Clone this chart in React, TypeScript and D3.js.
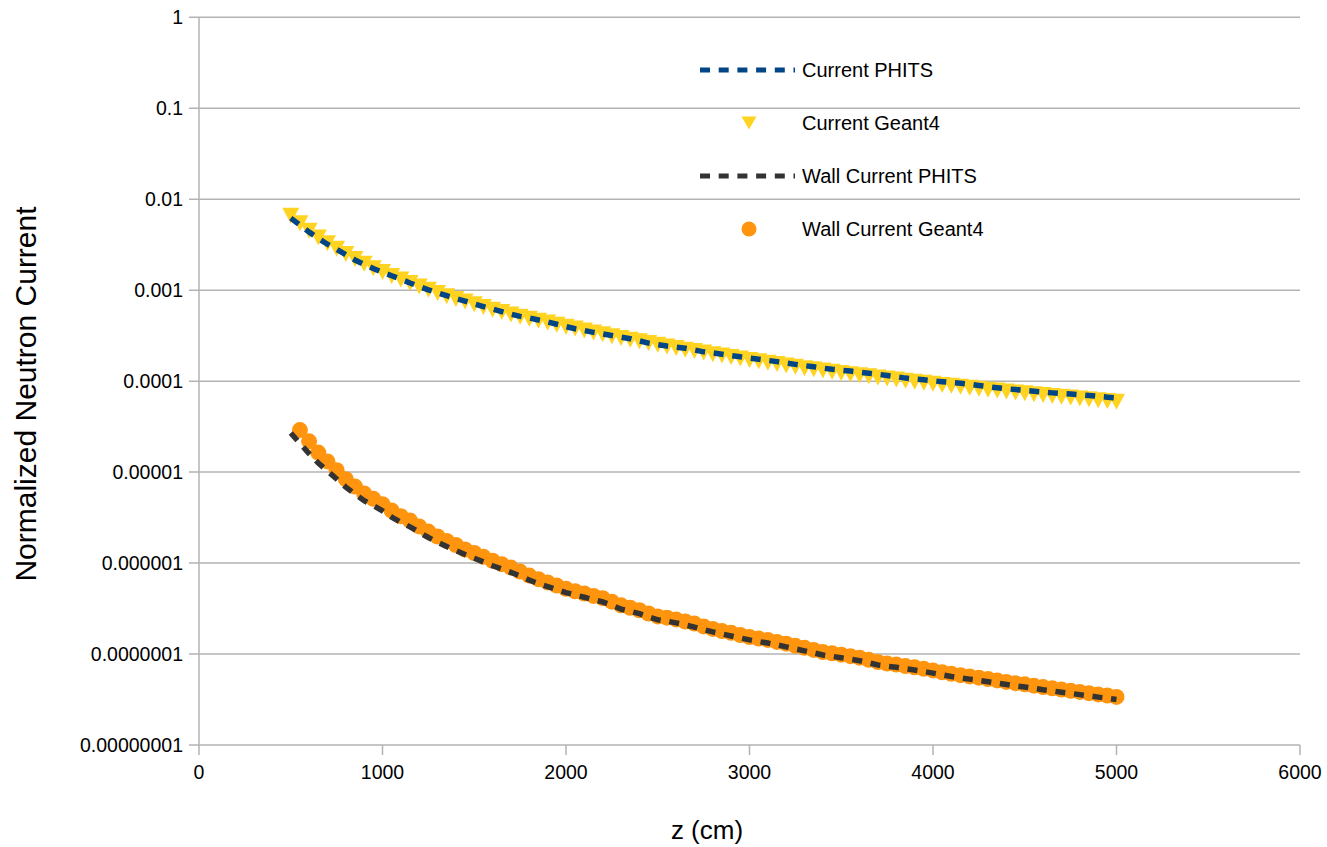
import React from "react";
import * as d3 from "d3";

const zGrid: number[] = d3.range(500, 5001, 50);
const zWallG4: number[] = d3.range(550, 5001, 50);

const currentPHITS: number[] = [
  6.2e-3, 5.2e-3, 4.35e-3, 3.7e-3, 3.2e-3, 2.82e-3, 2.46e-3, 2.15e-3, 1.92e-3, 1.73e-3,
  1.57e-3, 1.44e-3, 1.32e-3, 1.2e-3, 1.1e-3, 1.01e-3, 9.35e-4, 8.7e-4, 8.1e-4, 7.6e-4,
  7.05e-4, 6.6e-4, 6.2e-4, 5.8e-4, 5.45e-4, 5.15e-4, 4.95e-4, 4.7e-4, 4.47e-4, 4.22e-4,
  3.98e-4, 3.77e-4, 3.6e-4, 3.44e-4, 3.3e-4, 3.17e-4, 3.05e-4, 2.93e-4, 2.77e-4, 2.62e-4,
  2.52e-4, 2.43e-4, 2.37e-4, 2.3e-4, 2.2e-4, 2.1e-4, 2.04e-4, 1.98e-4, 1.91e-4, 1.85e-4,
  1.79e-4, 1.74e-4, 1.69e-4, 1.64e-4, 1.58e-4, 1.53e-4, 1.48e-4, 1.44e-4, 1.39e-4, 1.35e-4,
  1.32e-4, 1.29e-4, 1.255e-4, 1.22e-4, 1.19e-4, 1.155e-4, 1.12e-4, 1.08e-4, 1.055e-4, 1.035e-4,
  1.01e-4, 9.85e-5, 9.65e-5, 9.5e-5, 9.25e-5, 8.95e-5, 8.7e-5, 8.45e-5, 8.25e-5, 8.08e-5,
  7.9e-5, 7.75e-5, 7.6e-5, 7.43e-5, 7.3e-5, 7.22e-5, 7.1e-5, 6.95e-5, 6.8e-5, 6.67e-5,
  6.55e-5,
];

const currentGeant4: number[] = [
  6.6e-3, 5.45e-3, 4.5e-3, 3.8e-3, 3.28e-3, 2.86e-3, 2.5e-3, 2.2e-3, 1.95e-3, 1.74e-3,
  1.58e-3, 1.43e-3, 1.31e-3, 1.2e-3, 1.1e-3, 1.01e-3, 9.3e-4, 8.6e-4, 8.0e-4, 7.5e-4,
  7.0e-4, 6.55e-4, 6.1e-4, 5.75e-4, 5.4e-4, 5.1e-4, 4.85e-4, 4.6e-4, 4.4e-4, 4.18e-4,
  3.97e-4, 3.78e-4, 3.6e-4, 3.43e-4, 3.27e-4, 3.12e-4, 2.99e-4, 2.86e-4, 2.74e-4, 2.62e-4,
  2.51e-4, 2.41e-4, 2.31e-4, 2.22e-4, 2.14e-4, 2.06e-4, 1.98e-4, 1.91e-4, 1.84e-4, 1.77e-4,
  1.71e-4, 1.65e-4, 1.59e-4, 1.54e-4, 1.49e-4, 1.44e-4, 1.39e-4, 1.35e-4, 1.31e-4, 1.27e-4,
  1.23e-4, 1.19e-4, 1.16e-4, 1.13e-4, 1.1e-4, 1.07e-4, 1.04e-4, 1.01e-4, 9.85e-5, 9.6e-5,
  9.35e-5, 9.1e-5, 8.88e-5, 8.66e-5, 8.45e-5, 8.25e-5, 8.06e-5, 7.87e-5, 7.69e-5, 7.52e-5,
  7.35e-5, 7.19e-5, 7.03e-5, 6.88e-5, 6.73e-5, 6.59e-5, 6.45e-5, 6.31e-5, 6.18e-5, 6.05e-5,
  5.93e-5,
];

const wallPHITS: number[] = [
  2.69e-5, 2.07e-5, 1.6e-5, 1.26e-5, 1.03e-5, 8.4e-6, 6.85e-6, 5.73e-6, 4.85e-6, 4.28e-6,
  3.75e-6, 3.2e-6, 2.8e-6, 2.5e-6, 2.18e-6, 1.91e-6, 1.7e-6, 1.52e-6, 1.37e-6, 1.24e-6,
  1.13e-6, 1.03e-6, 9.35e-7, 8.6e-7, 7.9e-7, 7.2e-7, 6.5e-7, 5.95e-7, 5.52e-7, 5.1e-7,
  4.74e-7, 4.45e-7, 4.21e-7, 3.95e-7, 3.74e-7, 3.42e-7, 3.12e-7, 2.95e-7, 2.78e-7, 2.56e-7,
  2.38e-7, 2.3e-7, 2.2e-7, 2.09e-7, 1.98e-7, 1.86e-7, 1.75e-7, 1.66e-7, 1.58e-7, 1.5e-7,
  1.43e-7, 1.37e-7, 1.32e-7, 1.26e-7, 1.2e-7, 1.14e-7, 1.085e-7, 1.03e-7, 9.75e-8, 9.43e-8,
  9.1e-8, 8.77e-8, 8.45e-8, 8.0e-8, 7.57e-8, 7.35e-8, 7.15e-8, 6.9e-8, 6.67e-8, 6.42e-8,
  6.17e-8, 5.9e-8, 5.66e-8, 5.47e-8, 5.3e-8, 5.14e-8, 4.97e-8, 4.79e-8, 4.62e-8, 4.47e-8,
  4.34e-8, 4.2e-8, 4.05e-8, 3.93e-8, 3.8e-8, 3.69e-8, 3.58e-8, 3.47e-8, 3.36e-8, 3.27e-8,
  3.16e-8,
];

const wallGeant4: number[] = [
  2.9e-5, 2.18e-5, 1.64e-5, 1.31e-5, 1.05e-5, 8.36e-6, 6.93e-6, 5.82e-6, 5.09e-6,
  4.43e-6, 3.78e-6, 3.28e-6, 2.93e-6, 2.53e-6, 2.22e-6, 1.96e-6, 1.75e-6, 1.58e-6, 1.41e-6,
  1.29e-6, 1.17e-6, 1.06e-6, 9.72e-7, 8.93e-7, 8.06e-7, 7.28e-7, 6.66e-7, 6.13e-7, 5.66e-7,
  5.21e-7, 4.9e-7, 4.63e-7, 4.35e-7, 4.11e-7, 3.76e-7, 3.43e-7, 3.22e-7, 3.03e-7, 2.79e-7,
  2.59e-7, 2.51e-7, 2.4e-7, 2.28e-7, 2.16e-7, 2.01e-7, 1.89e-7, 1.79e-7, 1.71e-7, 1.62e-7,
  1.54e-7, 1.48e-7, 1.43e-7, 1.36e-7, 1.3e-7, 1.23e-7, 1.17e-7, 1.11e-7, 1.05e-7, 1.02e-7,
  9.83e-8, 9.47e-8, 9.13e-8, 8.64e-8, 8.18e-8, 7.86e-8, 7.65e-8, 7.38e-8, 7.14e-8, 6.87e-8,
  6.6e-8, 6.31e-8, 6.06e-8, 5.85e-8, 5.67e-8, 5.5e-8, 5.32e-8, 5.13e-8, 4.94e-8, 4.78e-8,
  4.64e-8, 4.49e-8, 4.33e-8, 4.2e-8, 4.07e-8, 3.95e-8, 3.83e-8, 3.71e-8, 3.6e-8, 3.5e-8,
  3.38e-8,
];

const xTicks: number[] = [0, 1000, 2000, 3000, 4000, 5000, 6000];
const yTicks: number[] = [1, 0.1, 0.01, 0.001, 0.0001, 1e-5, 1e-6, 1e-7, 1e-8];
const yTickLabels: string[] = [
  "1", "0.1", "0.01", "0.001", "0.0001", "0.00001", "0.000001", "0.0000001", "0.00000001",
];
const legendLabels: string[] = ["Current PHITS", "Current Geant4", "Wall Current PHITS", "Wall Current Geant4"];

const COL_BLUE = "#004586";
const COL_YELLOW = "#ffd320";
const COL_DARK = "#333333";
const COL_ORANGE = "#ff950e";
const GRID = "#b3b3b3";
const FONT = "'Liberation Sans', Arial, sans-serif";

export default function App() {
  const W = 1327;
  const H = 847;
  const x = d3.scaleLinear().domain([0, 6000]).range([199, 1300]);
  const y = d3.scaleLog().domain([1e-8, 1]).range([745, 17.3]);

  const line = d3
    .line<[number, number]>()
    .x((d) => x(d[0]))
    .y((d) => y(d[1]));

  const curPHITSPts: [number, number][] = zGrid.map((z, i) => [z, currentPHITS[i]]);
  const curG4Pts: [number, number][] = zGrid.map((z, i) => [z, currentGeant4[i]]);
  const wallPHITSPts: [number, number][] = zGrid.map((z, i) => [z, wallPHITS[i]]);
  const wallG4Pts: [number, number][] = zWallG4.map((z, i) => [z, wallGeant4[i]]);

  const tri = (cx: number, cy: number, hw: number, hh: number) =>
    `M${cx - hw},${cy - hh}L${cx + hw},${cy - hh}L${cx},${cy + hh}Z`;

  const dash = "10 8.7";
  const legendY = [70, 123, 176, 229];

  return (
    <div style={{ position: "absolute", left: 0, top: 0 }}>
      <svg width={W} height={H} viewBox={`0 0 ${W} ${H}`} style={{ display: "block", background: "#fff" }}>
        <rect x={0} y={0} width={W} height={H} fill="#fff" />
        {yTicks.map((t) => (
          <line key={"g" + t} x1={189} x2={1300} y1={y(t)} y2={y(t)} stroke={GRID} strokeWidth={1.5} />
        ))}
        <line x1={x(0)} x2={x(0)} y1={y(1)} y2={y(1e-8)} stroke={GRID} strokeWidth={1.5} />
        {xTicks.map((t) => (
          <line key={"xt" + t} x1={x(t)} x2={x(t)} y1={745} y2={755} stroke={GRID} strokeWidth={1.5} />
        ))}
        {yTicks.map((t, i) => (
          <text
            key={"yl" + t}
            x={183}
            y={y(t)}
            dy="0.35em"
            textAnchor="end"
            fontFamily={FONT}
            fontSize={19.5}
            fill="#000"
          >
            {yTickLabels[i]}
          </text>
        ))}
        {xTicks.map((t) => (
          <text
            key={"xl" + t}
            x={x(t)}
            y={772}
            dy="0.35em"
            textAnchor="middle"
            fontFamily={FONT}
            fontSize={19.5}
            fill="#000"
          >
            {t}
          </text>
        ))}
        <text
          x={0}
          y={0}
          transform={`translate(25,394) rotate(-90)`}
          dy="0.35em"
          textAnchor="middle"
          fontFamily={FONT}
          fontSize={30}
          fill="#000"
        >
          Normalized Neutron Current
        </text>
        <text x={707} y={830} dy="0.35em" textAnchor="middle" fontFamily={FONT} fontSize={26} fill="#000">
          z (cm)
        </text>

        {curG4Pts.map((d, i) => (
          <path key={"cg" + i} d={tri(x(d[0]), y(d[1]), 8.5, 8)} fill={COL_YELLOW} />
        ))}
        {wallG4Pts.map((d, i) => (
          <circle key={"wg" + i} cx={x(d[0])} cy={y(d[1])} r={8} fill={COL_ORANGE} />
        ))}
        <path d={line(curPHITSPts) || ""} fill="none" stroke={COL_BLUE} strokeWidth={5.5} strokeDasharray={dash} />
        <path d={line(wallPHITSPts) || ""} fill="none" stroke={COL_DARK} strokeWidth={5.5} strokeDasharray={dash} />

        <line x1={700} x2={795} y1={legendY[0]} y2={legendY[0]} stroke={COL_BLUE} strokeWidth={5} strokeDasharray={dash} />
        <path d={tri(749, legendY[1], 7.5, 6.5)} fill={COL_YELLOW} />
        <line x1={700} x2={795} y1={legendY[2]} y2={legendY[2]} stroke={COL_DARK} strokeWidth={5} strokeDasharray={dash} />
        <circle cx={749} cy={legendY[3]} r={7.5} fill={COL_ORANGE} />
        {legendLabels.map((l, i) => (
          <text key={l} x={802} y={legendY[i]} dy="0.35em" fontFamily={FONT} fontSize={20} fill="#000">
            {l}
          </text>
        ))}
      </svg>
    </div>
  );
}
